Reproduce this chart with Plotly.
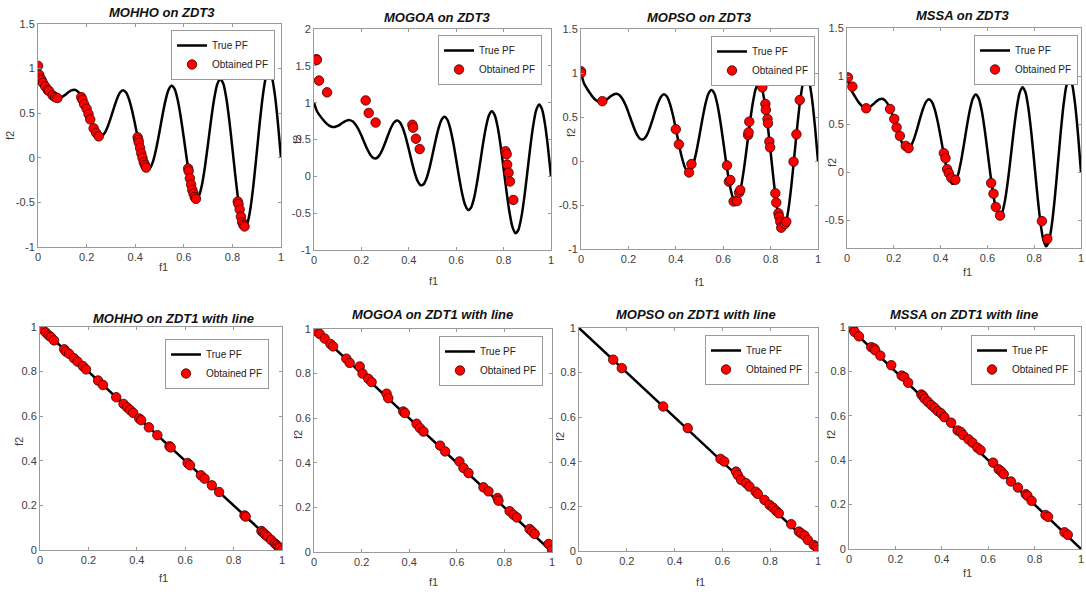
import plotly.graph_objects as go

# ---------------- data ----------------
# ZDT3 true Pareto front curve
zdt3_f1 = [0, 0.0125, 0.025, 0.0375, 0.05, 0.0625, 0.075, 0.0875, 0.1, 0.1125, 0.125, 0.1375,
           0.15, 0.1625, 0.175, 0.1875, 0.2, 0.2125, 0.225, 0.2375, 0.25, 0.2625, 0.275, 0.2875,
           0.3, 0.3125, 0.325, 0.3375, 0.35, 0.3625, 0.375, 0.3875, 0.4, 0.4125, 0.425, 0.4375,
           0.45, 0.4625, 0.475, 0.4875, 0.5, 0.5125, 0.525, 0.5375, 0.55, 0.5625, 0.575, 0.5875,
           0.6, 0.6125, 0.625, 0.6375, 0.65, 0.6625, 0.675, 0.6875, 0.7, 0.7125, 0.725, 0.7375,
           0.75, 0.7625, 0.775, 0.7875, 0.8, 0.8125, 0.825, 0.8375, 0.85, 0.8625, 0.875, 0.8875,
           0.9, 0.9125, 0.925, 0.9375, 0.95, 0.9625, 0.975, 0.9875, 1.0]
zdt3_f2 = [1.0, 0.883, 0.824, 0.772, 0.726, 0.692, 0.673, 0.671, 0.684, 0.708, 0.735, 0.756,
           0.763, 0.747, 0.705, 0.639, 0.553, 0.458, 0.367, 0.293, 0.25, 0.245, 0.281, 0.354,
           0.452, 0.561, 0.660, 0.731, 0.758, 0.733, 0.653, 0.526, 0.368, 0.200, 0.048, -0.066,
           -0.121, -0.107, -0.025, 0.115, 0.293, 0.480, 0.647, 0.764, 0.808, 0.770, 0.648, 0.458,
           0.225, -0.017, -0.233, -0.387, -0.456, -0.426, -0.299, -0.092, 0.163, 0.429, 0.661, 0.823,
           0.884, 0.831, 0.668, 0.414, 0.106, -0.212, -0.492, -0.689, -0.772, -0.726, -0.554, -0.282,
           0.051, 0.394, 0.692, 0.898, 0.975, 0.908, 0.702, 0.384, 0.0]

# ZDT1 "with line" true front
zdt1_f1 = [0.0, 1.0]
zdt1_f2 = [1.0, 0.0]

# Obtained fronts, ZDT3
mohho_z3_f1 = [0.0, 0.005, 0.01, 0.015, 0.02, 0.03, 0.04, 0.045, 0.06, 0.07, 0.08,
               0.178, 0.183, 0.19, 0.2, 0.208, 0.215, 0.229, 0.239, 0.25,
               0.41, 0.413, 0.415, 0.42, 0.425, 0.43, 0.435, 0.44, 0.445,
               0.618, 0.62, 0.625, 0.63, 0.635, 0.64, 0.645, 0.65,
               0.822, 0.825, 0.83, 0.835, 0.84, 0.845, 0.85]
mohho_z3_f2 = [1.03, 0.93, 0.89, 0.87, 0.84, 0.80, 0.76, 0.75, 0.70, 0.68, 0.67,
               0.68, 0.65, 0.60, 0.55, 0.49, 0.43, 0.33, 0.28, 0.24,
               0.23, 0.20, 0.17, 0.11, 0.05, 0.0, -0.05, -0.08, -0.11,
               -0.12, -0.15, -0.23, -0.30, -0.36, -0.40, -0.44, -0.46,
               -0.49, -0.52, -0.58, -0.66, -0.72, -0.75, -0.77]

mogoa_z3_f1 = [0.01, 0.012, 0.021, 0.055, 0.218, 0.231, 0.26, 0.415, 0.418, 0.43, 0.446,
               0.808, 0.813, 0.815, 0.821, 0.827, 0.841]
mogoa_z3_f2 = [1.59, 1.58, 1.30, 1.14, 1.03, 0.86, 0.73, 0.70, 0.66, 0.51, 0.37,
               0.34, 0.30, 0.16, 0.05, -0.07, -0.32]

mopso_z3_f1 = [0.0, 0.0, 0.09, 0.40, 0.413, 0.456, 0.466, 0.616, 0.624, 0.63, 0.644, 0.658,
               0.667, 0.672, 0.705, 0.707, 0.71, 0.748, 0.761, 0.765, 0.778, 0.78, 0.787,
               0.789, 0.795, 0.798, 0.82, 0.824, 0.833, 0.836, 0.841, 0.845, 0.86, 0.866,
               0.897, 0.909, 0.923]
mopso_z3_f2 = [1.02, 1.0, 0.68, 0.36, 0.19, -0.13, -0.035, -0.05, -0.235, -0.216, -0.46, -0.455,
               -0.36, -0.33, 0.295, 0.325, 0.447, 0.928, 0.866, 0.837, 0.648, 0.58, 0.477,
               0.428, 0.22, 0.155, -0.367, -0.473, -0.595, -0.633, -0.69, -0.758, -0.716, -0.69,
               -0.008, 0.303, 0.693]

mssa_z3_f1 = [0.004, 0.023, 0.082, 0.184, 0.202, 0.212, 0.226, 0.251, 0.263, 0.414, 0.421, 0.428,
              0.435, 0.446, 0.463, 0.616, 0.626, 0.636, 0.654, 0.833, 0.856]
mssa_z3_f2 = [0.986, 0.89, 0.664, 0.657, 0.554, 0.464, 0.377, 0.273, 0.249, 0.197, 0.145, 0.031,
              -0.01, -0.062, -0.08, -0.114, -0.225, -0.363, -0.453, -0.51, -0.695]

# Obtained fronts, ZDT1
mohho_z1_f1 = [0.0, 0.01, 0.024, 0.036, 0.045, 0.058, 0.1, 0.107, 0.12, 0.14, 0.155, 0.177, 0.19,
               0.24, 0.26, 0.315, 0.345, 0.36, 0.372, 0.385, 0.41, 0.418, 0.45, 0.485, 0.535,
               0.54, 0.61, 0.62, 0.665, 0.68, 0.71, 0.74, 0.845, 0.85, 0.915, 0.922, 0.93,
               0.94, 0.955, 0.97, 0.978, 0.985, 0.99, 1.0]
mohho_z1_f2 = [1.0, 0.99, 0.975, 0.962, 0.955, 0.94, 0.9, 0.89, 0.88, 0.86, 0.845, 0.825, 0.81,
               0.76, 0.74, 0.685, 0.655, 0.64, 0.628, 0.615, 0.59, 0.582, 0.55, 0.515, 0.465,
               0.46, 0.39, 0.38, 0.335, 0.32, 0.29, 0.26, 0.155, 0.15, 0.085, 0.078, 0.07,
               0.06, 0.045, 0.03, 0.022, 0.015, 0.01, 0.0]

mogoa_z1_f1 = [0.01, 0.024, 0.045, 0.069, 0.08, 0.136, 0.15, 0.192, 0.204, 0.228, 0.242, 0.305,
               0.312, 0.375, 0.382, 0.431, 0.445, 0.46, 0.53, 0.551, 0.611, 0.628, 0.649, 0.712,
               0.733, 0.771, 0.775, 0.822, 0.838, 0.852, 0.906, 0.916, 0.927, 0.986, 1.0]
mogoa_z1_f2 = [0.99, 0.978, 0.957, 0.933, 0.922, 0.867, 0.848, 0.832, 0.8, 0.777, 0.762, 0.71,
               0.69, 0.63, 0.623, 0.575, 0.556, 0.54, 0.477, 0.451, 0.406, 0.377, 0.354, 0.29,
               0.272, 0.242, 0.23, 0.183, 0.167, 0.155, 0.103, 0.093, 0.081, 0.036, 0.009]

mopso_z1_f1 = [0.143, 0.179, 0.352, 0.455, 0.592, 0.608, 0.657, 0.664, 0.678, 0.699, 0.713, 0.739,
               0.748, 0.776, 0.797, 0.811, 0.825, 0.836, 0.888, 0.92, 0.93, 0.944, 0.958, 0.982,
               0.993, 1.0]
mopso_z1_f2 = [0.858, 0.82, 0.648, 0.551, 0.413, 0.401, 0.356, 0.341, 0.319, 0.304, 0.289, 0.266,
               0.256, 0.229, 0.207, 0.195, 0.18, 0.169, 0.12, 0.087, 0.079, 0.069, 0.049, 0.027,
               0.019, 0.004]

mssa_z1_f1 = [0.018, 0.024, 0.043, 0.096, 0.109, 0.113, 0.135, 0.182, 0.227, 0.238, 0.255, 0.312,
              0.319, 0.326, 0.34, 0.355, 0.369, 0.383, 0.397, 0.411, 0.44, 0.468, 0.482, 0.492,
              0.515, 0.532, 0.553, 0.567, 0.621, 0.645, 0.657, 0.667, 0.698, 0.728, 0.762, 0.769,
              0.787, 0.847, 0.858, 0.929, 0.943]
mssa_z1_f2 = [0.991, 0.978, 0.958, 0.909, 0.903, 0.895, 0.871, 0.828, 0.781, 0.775, 0.749, 0.696,
              0.689, 0.677, 0.663, 0.648, 0.636, 0.621, 0.611, 0.594, 0.569, 0.534, 0.527, 0.513,
              0.494, 0.479, 0.457, 0.445, 0.389, 0.359, 0.349, 0.337, 0.304, 0.277, 0.247, 0.24,
              0.217, 0.153, 0.145, 0.075, 0.064]

titles = ["MOHHO on ZDT3", "MOGOA on ZDT3", "MOPSO on ZDT3", "MSSA on ZDT3",
          "MOHHO on ZDT1 with line", "MOGOA on ZDT1 with line", "MOPSO on ZDT1 with line",
          "MSSA on ZDT1 with line"]
legend_names = ["True PF", "Obtained PF"]

x_tickvals = [0, 0.2, 0.4, 0.6, 0.8, 1]
x_ticktext = ["0", "0.2", "0.4", "0.6", "0.8", "1"]
y_ticks_a = [-1, -0.5, 0, 0.5, 1, 1.5]
y_ticktext_a = ["-1", "-0.5", "0", "0.5", "1", "1.5"]
y_ticks_b = [-1, -0.5, 0, 0.5, 1, 1.5, 2]
y_ticktext_b = ["-1", "-0.5", "0", "0.5", "1", "1.5", "2"]
y_ticks_c = [-0.5, 0, 0.5, 1, 1.5]
y_ticktext_c = ["-0.5", "0", "0.5", "1", "1.5"]
y_ticks_d = [0, 0.2, 0.4, 0.6, 0.8, 1]
y_ticktext_d = ["0", "0.2", "0.4", "0.6", "0.8", "1"]

# ---------------- layout helpers ----------------
W, H = 1086, 592
# plot boxes in pixels: (left, right, top, bottom)
boxes = [(38, 281, 24, 247), (314, 551, 29, 250), (581, 818, 29, 249), (847, 1081, 28, 248),
         (40, 282, 327, 550), (314, 552, 329, 552), (579, 818, 328, 551), (849, 1081, 327, 549)]
yranges = [[-1, 1.5], [-1, 2], [-1, 1.5], [-0.79, 1.5], [0, 1], [0, 1], [0, 1], [0, 1]]
yticks = [(y_ticks_a, y_ticktext_a), (y_ticks_b, y_ticktext_b), (y_ticks_a, y_ticktext_a),
          (y_ticks_c, y_ticktext_c)] + [(y_ticks_d, y_ticktext_d)] * 4
title_pos = [(162, 13), (437, 17), (699, 17), (962, 16), (173, 318), (432, 314), (696, 314), (964, 314)]
f1_pos = [(163, 267), (433, 281), (699, 282), (967, 272), (163, 578), (433, 582), (700, 582), (967, 573)]
f2_pos = [(10, 136), (297, 140), (571, 133), (832, 163), (19, 442), (298, 435), (560, 437), (831, 435)]
legend_pos = [(275, 30), (542, 35), (815, 36), (1078, 35), (269, 339), (543, 336), (809, 335), (1075, 335)]

obtained = [(mohho_z3_f1, mohho_z3_f2), (mogoa_z3_f1, mogoa_z3_f2), (mopso_z3_f1, mopso_z3_f2),
            (mssa_z3_f1, mssa_z3_f2), (mohho_z1_f1, mohho_z1_f2), (mogoa_z1_f1, mogoa_z1_f2),
            (mopso_z1_f1, mopso_z1_f2), (mssa_z1_f1, mssa_z1_f2)]

FONT = "Liberation Sans, Arial, sans-serif"
AXCOL = "#9a9a9a"
TXT = "#404040"

fig = go.Figure()
layout = dict(width=W, height=H, margin=dict(l=0, r=0, t=0, b=0, autoexpand=False),
              paper_bgcolor="white", plot_bgcolor="white", showlegend=True,
              font=dict(family=FONT, color=TXT, size=11))
annotations = []

for i in range(8):
    n = i + 1
    xa = "x" if n == 1 else f"x{n}"
    ya = "y" if n == 1 else f"y{n}"
    lg = "legend" if n == 1 else f"legend{n}"
    l, r, t, b = boxes[i]
    if i < 4:
        fig.add_trace(go.Scatter(x=zdt3_f1, y=zdt3_f2, mode="lines", name=legend_names[0],
                                 line=dict(color="black", width=2.5, shape="spline", smoothing=0.6),
                                 xaxis=xa, yaxis=ya, legend=lg, hoverinfo="skip"))
    else:
        fig.add_trace(go.Scatter(x=zdt1_f1, y=zdt1_f2, mode="lines", name=legend_names[0],
                                 line=dict(color="black", width=2.5),
                                 xaxis=xa, yaxis=ya, legend=lg, hoverinfo="skip"))
    ox, oy = obtained[i]
    fig.add_trace(go.Scatter(x=ox, y=oy, mode="markers", name=legend_names[1],
                             marker=dict(color="#ff0000", size=9.5, line=dict(color="#3a0000", width=0.8)),
                             xaxis=xa, yaxis=ya, legend=lg))
    axcommon = dict(showline=True, linecolor=AXCOL, linewidth=1, mirror="ticks", ticks="inside",
                    ticklen=3, tickcolor=AXCOL, showgrid=False, zeroline=False,
                    tickfont=dict(family=FONT, size=11, color=TXT))
    layout["xaxis" if n == 1 else f"xaxis{n}"] = dict(
        domain=[l / W, r / W], range=[0, 1], anchor=ya, tickvals=x_tickvals, ticktext=x_ticktext,
        **axcommon)
    tv, tt = yticks[i]
    layout["yaxis" if n == 1 else f"yaxis{n}"] = dict(
        domain=[1 - b / H, 1 - t / H], range=yranges[i], anchor=xa, tickvals=tv, ticktext=tt,
        **axcommon)
    lx, ly = legend_pos[i]
    layout[lg] = dict(x=lx / W, y=1 - ly / H, xanchor="right", yanchor="top",
                      bgcolor="white", bordercolor=AXCOL, borderwidth=1,
                      font=dict(family=FONT, size=10, color="#222"), itemwidth=30,
                      tracegroupgap=0)
    tx, ty = title_pos[i]
    annotations.append(dict(text=titles[i], x=tx / W, y=1 - ty / H, xref="paper", yref="paper",
                            showarrow=False, xanchor="center", yanchor="middle",
                            font=dict(family=FONT, size=13, color="#111", weight="bold", style="italic")))
    fx, fy = f1_pos[i]
    annotations.append(dict(text="f1", x=fx / W, y=1 - fy / H, xref="paper", yref="paper",
                            showarrow=False, xanchor="center", yanchor="middle",
                            font=dict(family=FONT, size=11, color=TXT)))
    gx, gy = f2_pos[i]
    annotations.append(dict(text="f2", x=gx / W, y=1 - gy / H, xref="paper", yref="paper",
                            showarrow=False, xanchor="center", yanchor="middle", textangle=-90,
                            font=dict(family=FONT, size=11, color=TXT)))

layout["annotations"] = annotations
fig.update_layout(**layout)
fig.write_html("out.html", config={"displayModeBar": False},
               post_script="document.body.style.margin='0';document.body.style.padding='0';"
                           "document.body.style.overflow='hidden';")
